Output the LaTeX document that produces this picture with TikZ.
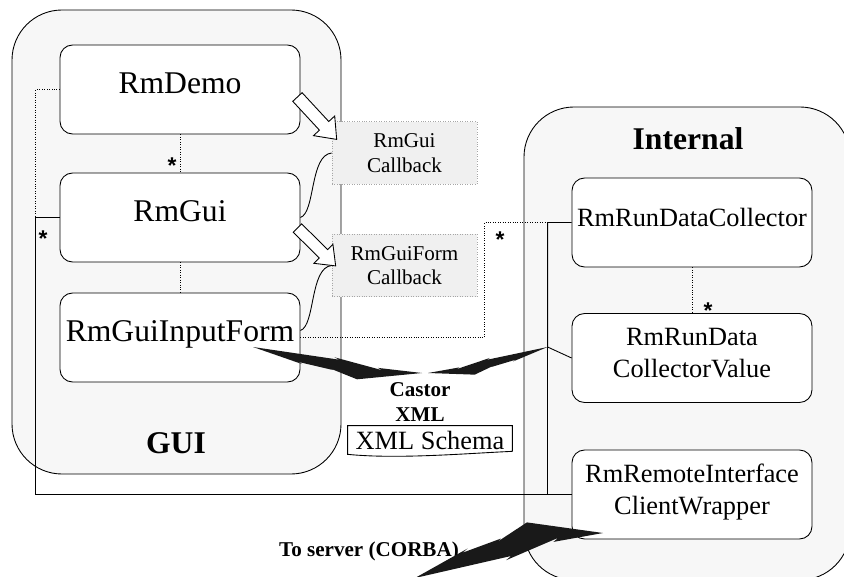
\documentclass[tikz,border=0pt]{standalone}
\usepackage{fontspec}
\setmainfont{Liberation Serif}
\setsansfont{Liberation Sans}
\usetikzlibrary{calc}

% outlines drawn in a local frame: (0,0) is the tail, (1,0) the tip
\newcommand\boltoutline{(0,0) -- (0.30,0.085) -- (0.27,0.07) -- (0.48,0.095) -- (0.45,0.08) -- (0.63,0.145) -- (1,0) -- (0.74,0.015) -- (0.77,0.03) -- (0.48,-0.02) -- (0.51,-0.005) -- cycle}
\newcommand\fatarrow{(0,0.11) -- (0.68,0.11) -- (0.68,0.25) -- (1,0) -- (0.68,-0.25) -- (0.68,-0.11) -- (0,-0.11) -- cycle}

\tikzset{
  area/.style={draw, line width=0.5pt, fill=black!3, rounded corners=1cm},
  classbox/.style={draw, line width=0.5pt, fill=white, rounded corners=0.25cm,
    minimum width=4.8cm, minimum height=1.78cm, inner sep=0pt, align=center},
  oneline/.style={text height=12pt, text depth=7pt},
  twoline/.style={text depth=6pt},
  callback/.style={draw=black!35, densely dotted, fill=black!6, minimum width=2.9cm,
    minimum height=1.25cm, inner sep=0pt, align=center, font=\fontsize{12}{14}\selectfont},
  link/.style={line width=0.5pt},
  dots/.style={line width=0.4pt, densely dotted},
  mult/.style={inner sep=0pt, font=\sffamily\bfseries\fontsize{13}{13}\selectfont},
  caption/.style={font=\bfseries\fontsize{12}{14.2}\selectfont, align=center},
  alongframe/.style n args={3}{x={($(#2)-(#1)$)}, y={($(#1)!#3:(#2)-(#1)$)}, shift={(#1)}},
}

\begin{document}
\begin{tikzpicture}[x=0.02cm, y=-0.02cm]
  \useasboundingbox (0,0) rectangle (844,577);
  \clip (0,0) rectangle (844,577);

  % packages
  \path[area] (12,10) rectangle (341,474);
  \path[area] (524,107) rectangle (850,580);
  \node[font=\bfseries\fontsize{18}{21}\selectfont] (guilabel) at (176,443.5) {GUI};
  \node[font=\bfseries\fontsize{18}{21}\selectfont] (intlabel) at (688,139) {Internal};

  % classes
  \node[classbox, oneline, font=\fontsize{18}{21}\selectfont] (demo) at (180,89.5) {RmDemo};
  \node[classbox, oneline, font=\fontsize{18}{21}\selectfont] (gui) at (180,217.5) {RmGui};
  \node[classbox, oneline, font=\fontsize{18}{21}\selectfont] (form) at (180,337.5) {RmGuiInputForm};
  \node[classbox, oneline, font=\fontsize{15}{18}\selectfont] (coll) at (692,222.5) {RmRunDataCollector};
  \node[classbox, twoline, font=\fontsize{15}{18.5}\selectfont] (value) at (692,358) {RmRunData\\CollectorValue};
  \node[classbox, twoline, font=\fontsize{15}{18.5}\selectfont] (remote) at (692,494.5) {RmRemoteInterface\\ClientWrapper};

  \node[callback] (cbgui) at (404.5,153) {RmGui\\Callback};
  \node[callback] (cbform) at (404.5,265.5) {RmGuiForm\\Callback};

  % associations
  \draw[dots] (demo.south) -- (gui.north);
  \draw[dots] (gui.south) -- (form.north);
  \draw[dots] (coll.south) -- (value.north);
  \draw[dots] (demo.west) -- ++(-24,0) |- (gui.west);
  \draw[dots] (form.east) -- ++(184,0) |- (coll.west);
  \coordinate (junc) at ($(coll.west)+(-24,124.5)$);
  \draw[link] (gui.west) -- ++(-24,0) |- (remote.west);
  \draw[link] (coll.west) -- ++(-24,0) -- (junc) -- (value.west);
  \draw[link] (junc) -- (junc |- remote.west);

  \node[mult] (m1) at (172,166) {*};
  \node[mult] (m2) at (43,239) {*};
  \node[mult] (m3) at (500,240) {*};
  \node[mult] (m4) at (708,311) {*};

  % callbacks
  \draw[link] (gui.east) .. controls +(15,-5) and +(-22,2) .. (cbgui.west);
  \draw[link] ($(form.east)+(0,-7)$) .. controls +(15,-5) and +(-22,2) .. (cbform.west);
  \coordinate (a1s) at ($(demo.east)+(-3,7.5)$);
  \coordinate (a1e) at ($(cbgui.north west)+(5,18)$);
  \coordinate (a2s) at ($(gui.east)+(-3,10.5)$);
  \coordinate (a2e) at ($(cbform.north west)+(4,32)$);
  \draw[link, fill=white, alongframe={a1s}{a1e}{1!90}] \fatarrow;
  \draw[link, fill=white, alongframe={a2s}{a2e}{1!90}] \fatarrow;

  % XML binding and remote link
  \node[caption] (castor) at (420,402) {Castor\\XML};
  \node[font=\fontsize{15}{18}\selectfont, minimum width=3.28cm, minimum height=0.56cm, inner sep=0pt] (schema) at (430,440) {XML Schema};
  \draw[link] ($(schema.south east)+(0,-3)$) -- (schema.north east) -- (schema.north west) -- (schema.south west)
    .. controls +(50,5) and +(-45,2) .. ($(schema.south east)+(0,-3)$);
  \node[caption, anchor=base] (corba) at (369,556) {To server (CORBA)};

  \coordinate (formplug) at (253,347);
  \coordinate (castorl) at (422,373);
  \coordinate (castorr) at (428,373);
  \coordinate (corbaend) at (415,578);
  \coordinate (corbaplug) at (603,533);
  \fill[black!90, alongframe={formplug}{castorl}{0.65!-90}] \boltoutline;
  \fill[black!90, alongframe={junc}{castorr}{0.65!90}] \boltoutline;
  \fill[black!90, alongframe={corbaend}{corbaplug}{1!90}] \boltoutline;
\end{tikzpicture}
\end{document}
